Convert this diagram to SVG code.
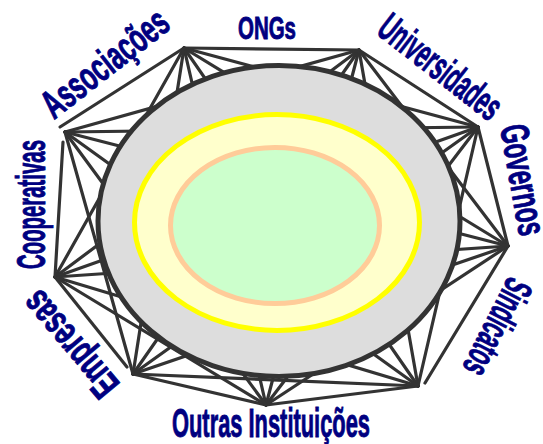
<svg xmlns="http://www.w3.org/2000/svg" width="543" height="444" viewBox="0 0 543 444">
<style>
.e{stroke:#333333;stroke-width:3.2;stroke-linecap:round;fill:none}
.lb{font-family:"Liberation Sans",Arial,sans-serif;font-weight:bold;fill:#000080;stroke:#000080;stroke-width:0.9;font-size:40px}
</style>
<rect width="543" height="444" fill="#ffffff"/>
<g id="connectors" class="e">
<line x1="184" y1="48" x2="359" y2="50"/>
<line x1="184" y1="48" x2="478" y2="127"/>
<line x1="184" y1="48" x2="508" y2="246"/>
<line x1="184" y1="48" x2="418" y2="386"/>
<line x1="184" y1="48" x2="266" y2="405"/>
<line x1="184" y1="48" x2="133" y2="374"/>
<line x1="184" y1="48" x2="55" y2="277"/>
<line x1="184" y1="48" x2="60" y2="127"/>
<line x1="359" y1="50" x2="478" y2="127"/>
<line x1="359" y1="50" x2="508" y2="246"/>
<line x1="359" y1="50" x2="418" y2="386"/>
<line x1="359" y1="50" x2="266" y2="405"/>
<line x1="359" y1="50" x2="133" y2="374"/>
<line x1="359" y1="50" x2="55" y2="277"/>
<line x1="359" y1="50" x2="65" y2="132"/>
<line x1="478" y1="127" x2="508" y2="246"/>
<line x1="478" y1="127" x2="418" y2="386"/>
<line x1="478" y1="127" x2="266" y2="405"/>
<line x1="478" y1="127" x2="133" y2="374"/>
<line x1="478" y1="127" x2="55" y2="277"/>
<line x1="478" y1="127" x2="65" y2="132"/>
<line x1="508" y1="246" x2="425" y2="383"/>
<line x1="508" y1="246" x2="266" y2="405"/>
<line x1="508" y1="246" x2="133" y2="374"/>
<line x1="508" y1="246" x2="55" y2="277"/>
<line x1="508" y1="246" x2="65" y2="132"/>
<line x1="418" y1="386" x2="266" y2="405"/>
<line x1="418" y1="386" x2="133" y2="374"/>
<line x1="418" y1="386" x2="55" y2="277"/>
<line x1="418" y1="386" x2="65" y2="132"/>
<line x1="266" y1="405" x2="133" y2="374"/>
<line x1="266" y1="405" x2="55" y2="277"/>
<line x1="266" y1="405" x2="65" y2="132"/>
<line x1="127" y1="367" x2="55" y2="277"/>
<line x1="133" y1="374" x2="65" y2="132"/>
<line x1="55" y1="277" x2="63" y2="142"/>
</g>
<g id="core">
<ellipse cx="279" cy="221" rx="181" ry="155.5" fill="#DDDDDD" stroke="#333333" stroke-width="5"/>
<ellipse cx="277" cy="222.5" rx="142.5" ry="108" fill="#FFFFCC" stroke="#FFFF00" stroke-width="5"/>
<ellipse cx="275" cy="225.5" rx="104.5" ry="78" fill="#CCFFCC" stroke="#FFCC99" stroke-width="5"/>
</g>
<g id="label-ongs"><text class="lb" x="267" y="39" text-anchor="middle" style="font-size:31px" textLength="58" lengthAdjust="spacingAndGlyphs">ONGs</text></g>
<g id="label-universidades"><text class="lb" transform="translate(375,33) rotate(38)" x="0" y="0" textLength="145" lengthAdjust="spacingAndGlyphs">Universidades</text></g>
<g id="label-governos"><text class="lb" transform="translate(500,127) rotate(80)" x="0" y="0" textLength="112" lengthAdjust="spacingAndGlyphs">Governos</text></g>
<g id="label-sindicatos"><text class="lb" transform="translate(509,275) rotate(117)" x="0" y="0" textLength="104" lengthAdjust="spacingAndGlyphs">Sindicatos</text></g>
<g id="label-outras"><text class="lb" x="172" y="437" textLength="198" lengthAdjust="spacingAndGlyphs">Outras Instituições</text></g>
<g id="label-empresas"><text class="lb" transform="translate(121,384) rotate(230)" x="0" y="0" textLength="126" lengthAdjust="spacingAndGlyphs">Empresas</text></g>
<g id="label-cooperativas"><text class="lb" transform="translate(45,269) rotate(-90)" x="0" y="0" textLength="129" lengthAdjust="spacingAndGlyphs">Cooperativas</text></g>
<g id="label-associacoes"><text class="lb" transform="translate(54,120) rotate(-38)" x="0" y="0" textLength="150" lengthAdjust="spacingAndGlyphs">Associações</text></g>
</svg>
